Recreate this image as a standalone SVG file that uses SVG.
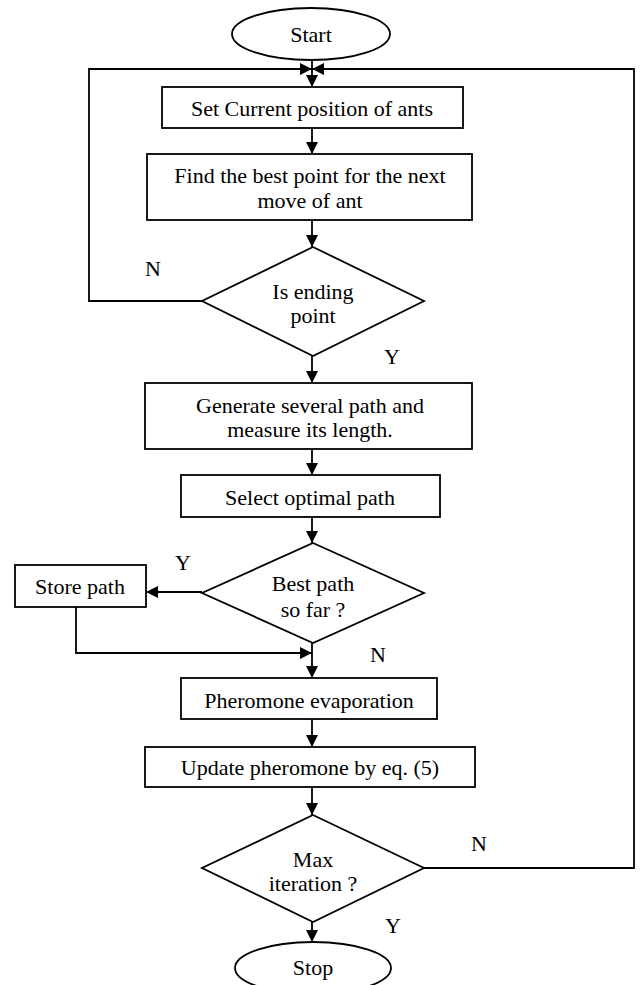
<svg xmlns="http://www.w3.org/2000/svg" width="640" height="985" viewBox="0 0 640 985">
  <style>
    .shape { fill: #ffffff; stroke: #000000; stroke-width: 1.8; }
    .label { font-family: "Liberation Serif", "Times New Roman", serif; font-size: 22px; fill: #000000; text-anchor: middle; }
    .edge { fill: none; stroke: #000000; stroke-width: 1.8; }
    .arrow { marker-end: url(#head); }
  </style>
  <defs>
    <marker id="head" viewBox="0 0 12 12" refX="12" refY="6" markerWidth="12" markerHeight="12" markerUnits="userSpaceOnUse" orient="auto">
      <path d="M0,0 L12,6 L0,12 Z" fill="#000000"/>
    </marker>
  </defs>

  <rect width="640" height="985" fill="#ffffff"/>

  <!-- connectors -->
  <g id="connectors">
    <path class="edge arrow" d="M312,60 L312,87"/>
    <path class="edge arrow" d="M202,301 L89,301 L89,69 L312,69"/>
    <path class="edge arrow" d="M424,868 L634,868 L634,69 L312,69"/>
    <path class="edge arrow" d="M312,128 L312,154"/>
    <path class="edge arrow" d="M312,220 L312,247"/>
    <path class="edge arrow" d="M312,356 L312,383"/>
    <path class="edge arrow" d="M312,449 L312,475"/>
    <path class="edge arrow" d="M312,517 L312,543"/>
    <path class="edge arrow" d="M202,592 L146,592"/>
    <path class="edge arrow" d="M312,643 L312,678"/>
    <path class="edge arrow" d="M76,607 L76,653 L312,653"/>
    <path class="edge arrow" d="M312,719 L312,747"/>
    <path class="edge arrow" d="M312,787 L312,815"/>
    <path class="edge arrow" d="M312,922 L312,942"/>

    <text class="label" x="153" y="276">N</text>
    <text class="label" x="392" y="364">Y</text>
    <text class="label" x="183" y="570">Y</text>
    <text class="label" x="378" y="662">N</text>
    <text class="label" x="479" y="851">N</text>
    <text class="label" x="393" y="933">Y</text>
  </g>

  <g id="start">
    <ellipse class="shape" cx="311" cy="34" rx="79" ry="26"/>
    <text class="label" x="311" y="42">Start</text>
  </g>

  <g id="set-position">
    <rect class="shape" x="162" y="87" width="301" height="41"/>
    <text class="label" x="312" y="116">Set Current position of ants</text>
  </g>

  <g id="find-best-point">
    <rect class="shape" x="147" y="154" width="325" height="66"/>
    <text class="label" x="310" y="183">Find the best point for the next</text>
    <text class="label" x="310" y="208">move of ant</text>
  </g>

  <g id="is-ending">
    <polygon class="shape" points="313,247 424,301 313,356 202,301"/>
    <text class="label" x="313" y="299">Is ending</text>
    <text class="label" x="313" y="323">point</text>
  </g>

  <g id="generate-paths">
    <rect class="shape" x="145" y="383" width="327" height="66"/>
    <text class="label" x="310" y="413">Generate several path and</text>
    <text class="label" x="310" y="437">measure its length.</text>
  </g>

  <g id="select-optimal">
    <rect class="shape" x="181" y="475" width="259" height="42"/>
    <text class="label" x="310" y="505">Select optimal path</text>
  </g>

  <g id="best-so-far">
    <polygon class="shape" points="313,543 424,593 313,643 202,593"/>
    <text class="label" x="313" y="591">Best path</text>
    <text class="label" x="313" y="617">so far ?</text>
  </g>

  <g id="store-path">
    <rect class="shape" x="15" y="565" width="131" height="42"/>
    <text class="label" x="80" y="594">Store path</text>
  </g>

  <g id="evaporation">
    <rect class="shape" x="181" y="678" width="256" height="41"/>
    <text class="label" x="309" y="708">Pheromone evaporation</text>
  </g>

  <g id="update-pheromone">
    <rect class="shape" x="145" y="747" width="330" height="40"/>
    <text class="label" x="310" y="775">Update pheromone by eq. (5)</text>
  </g>

  <g id="max-iteration">
    <polygon class="shape" points="313,815 424,868 313,922 202,868"/>
    <text class="label" x="313" y="867">Max</text>
    <text class="label" x="313" y="891">iteration ?</text>
  </g>

  <g id="stop">
    <ellipse class="shape" cx="313" cy="968" rx="78" ry="26"/>
    <text class="label" x="313" y="975">Stop</text>
  </g>
</svg>
